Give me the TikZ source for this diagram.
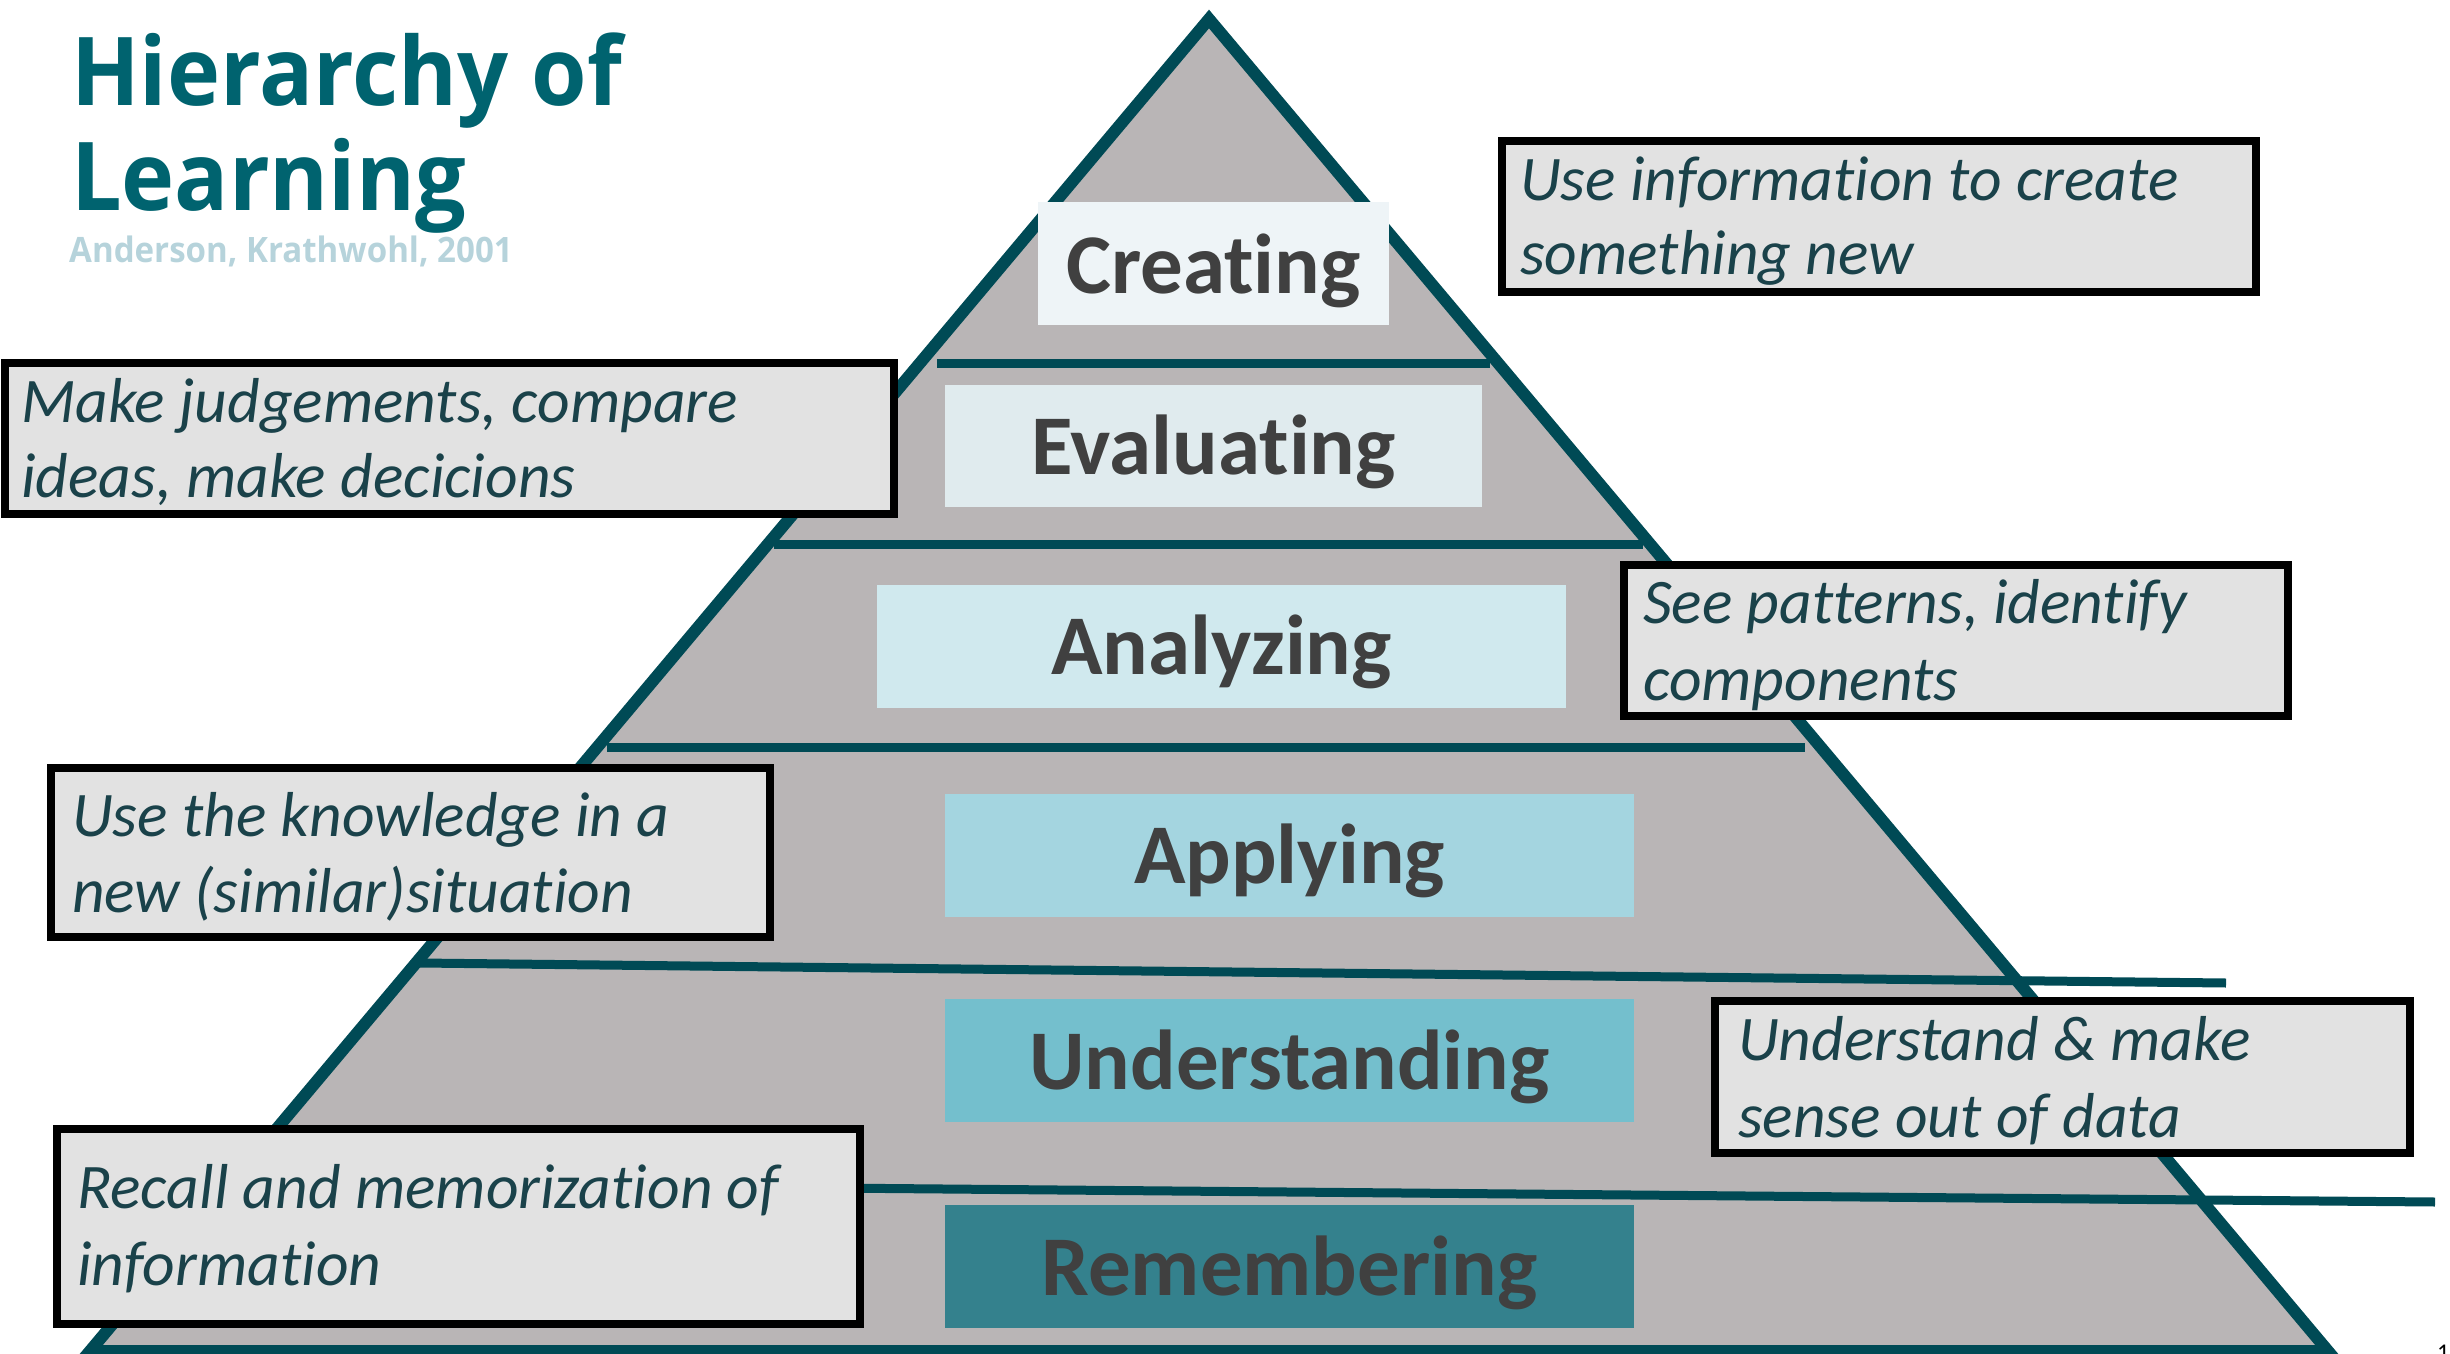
\documentclass[tikz,border=0pt]{standalone}
\usepackage{fontspec}
\setmainfont{Carlito}[RawFeature={-liga;-clig;-calt;-dlig}]
\newfontfamily\titlefont{Open Sans}[FakeStretch=0.945]
\definecolor{pyrfill}{HTML}{B9B5B6}
\definecolor{pyrline}{HTML}{004A55}
\definecolor{cCreate}{HTML}{EEF4F7}
\definecolor{cEval}{HTML}{E0EBEE}
\definecolor{cAnal}{HTML}{D0E9EE}
\definecolor{cAppl}{HTML}{A4D5E0}
\definecolor{cUnder}{HTML}{74BFCD}
\definecolor{cRemem}{HTML}{34818D}
\definecolor{descfill}{HTML}{E2E2E2}
\definecolor{desctxt}{HTML}{1A424A}
\definecolor{leveltxt}{HTML}{404040}
\definecolor{titlecol}{HTML}{00636F}
\definecolor{subcol}{HTML}{B6D3DB}
\tikzset{
  levelbox/.style={rectangle, inner sep=0pt, text=leveltxt,
    font=\fontsize{85}{100}\selectfont\bfseries},
  descbox/.style={rectangle, draw=black, line width=8pt, fill=descfill, inner sep=0pt},
  desctext/.style={anchor=base west, inner sep=0pt, text=desctxt,
    font=\fontsize{63.5}{77}\selectfont\itshape},
  layerline/.style={draw=pyrline, line width=9pt, line cap=butt},
}
\begin{document}
\begin{tikzpicture}[x=1pt,y=-1pt]
\useasboundingbox (0,0) rectangle (2450,1354);
% pyramid
\coordinate (apex) at (1209,19);
\coordinate (bl) at (90,1351);
\coordinate (br) at (2328,1351);
\fill[pyrfill] (apex) -- (bl) -- (br) -- cycle;
\draw[pyrline, line width=12pt, line join=miter] (apex) -- (bl) -- (br) -- cycle;
% layer lines
\coordinate (l1a) at (937,363);  \coordinate (l1b) at (1490,363);
\coordinate (l2a) at (774,544);  \coordinate (l2b) at (1643,544);
\coordinate (l3a) at (607,747);  \coordinate (l3b) at (1805,747);
\coordinate (l4a) at (420,963);  \coordinate (l4b) at (2226,983);
\coordinate (l5a) at (600,1186); \coordinate (l5b) at (2435,1202);
\draw[layerline] (l1a) -- (l1b);
\draw[layerline] (l2a) -- (l2b);
\draw[layerline] (l3a) -- (l3b);
\draw[layerline] (l4a) -- (l4b);
\draw[layerline] (l5a) -- (l5b);
% level boxes
\node[levelbox, fill=cCreate, minimum width=351pt, text height=91pt, text depth=32pt] (creating) at (1213.5,263.5) {Creating};
\node[levelbox, fill=cEval, minimum width=537pt, text height=89pt, text depth=33pt] (evaluating) at (1213.5,446) {Evaluating};
\node[levelbox, fill=cAnal, minimum width=689pt, text height=89pt, text depth=34pt] (analyzing) at (1221.5,646.5) {Analyzing};
\node[levelbox, fill=cAppl, minimum width=689pt, text height=89pt, text depth=34pt] (applying) at (1289.5,855.5) {Applying};
\node[levelbox, fill=cUnder, minimum width=689pt, text height=90pt, text depth=33pt] (understanding) at (1289.5,1060.5) {Understanding};
\node[levelbox, fill=cRemem, minimum width=689pt, text height=90pt, text depth=33pt] (remembering) at (1289.5,1266.5) {Remembering};
% description boxes
\node[descbox, minimum width=754pt, minimum height=151pt] (dA) at (1879,216.5) {};
\node[desctext] (dA1) at (1520,200) {Use information to create};
\node[desctext] (dA2) at (1520,274) {something new};
\node[descbox, minimum width=889pt, minimum height=151pt] (dB) at (449.5,438.5) {};
\node[desctext] (dB1) at (21,422) {Make judgements, compare};
\node[desctext] (dB2) at (21,497) {ideas, make decicions};
\node[descbox, minimum width=664pt, minimum height=151pt] (dC) at (1956,640.5) {};
\node[desctext] (dC1) at (1643,623) {See patterns, identify};
\node[desctext] (dC2) at (1643,700) {components};
\node[descbox, minimum width=719pt, minimum height=169pt] (dD) at (410.5,852.5) {};
\node[desctext] (dD1) at (72,836) {Use the knowledge in a};
\node[desctext] (dD2) at (72,912) {new (similar)situation};
\node[descbox, minimum width=695pt, minimum height=152pt] (dE) at (2062.5,1077) {};
\node[desctext] (dE1) at (1738,1060) {Understand \& make};
\node[desctext] (dE2) at (1738,1137) {sense out of data};
\node[descbox, minimum width=803pt, minimum height=195pt] (dF) at (458.5,1226.5) {};
\node[desctext] (dF1) at (77,1208) {Recall and memorization of};
\node[desctext] (dF2) at (77,1285) {information};
% title
\node[anchor=base west, inner sep=0pt, text=titlecol, font=\titlefont\bfseries\fontsize{95}{104}\selectfont] (title1) at (71,106) {Hierarchy of};
\node[anchor=base west, inner sep=0pt, text=titlecol, font=\titlefont\bfseries\fontsize{95}{104}\selectfont] (title2) at (71,210) {Learning};
\node[anchor=base west, inner sep=0pt, text=subcol, font=\titlefont\bfseries\fontsize{35}{40}\selectfont] (subtitle) at (69,262) {Anderson, Krathwohl, 2001};
% page number
\node[anchor=base west, inner sep=0pt, font=\fontsize{24}{28}\selectfont] (pagenum) at (2437,1360) {1};
\end{tikzpicture}
\end{document}
